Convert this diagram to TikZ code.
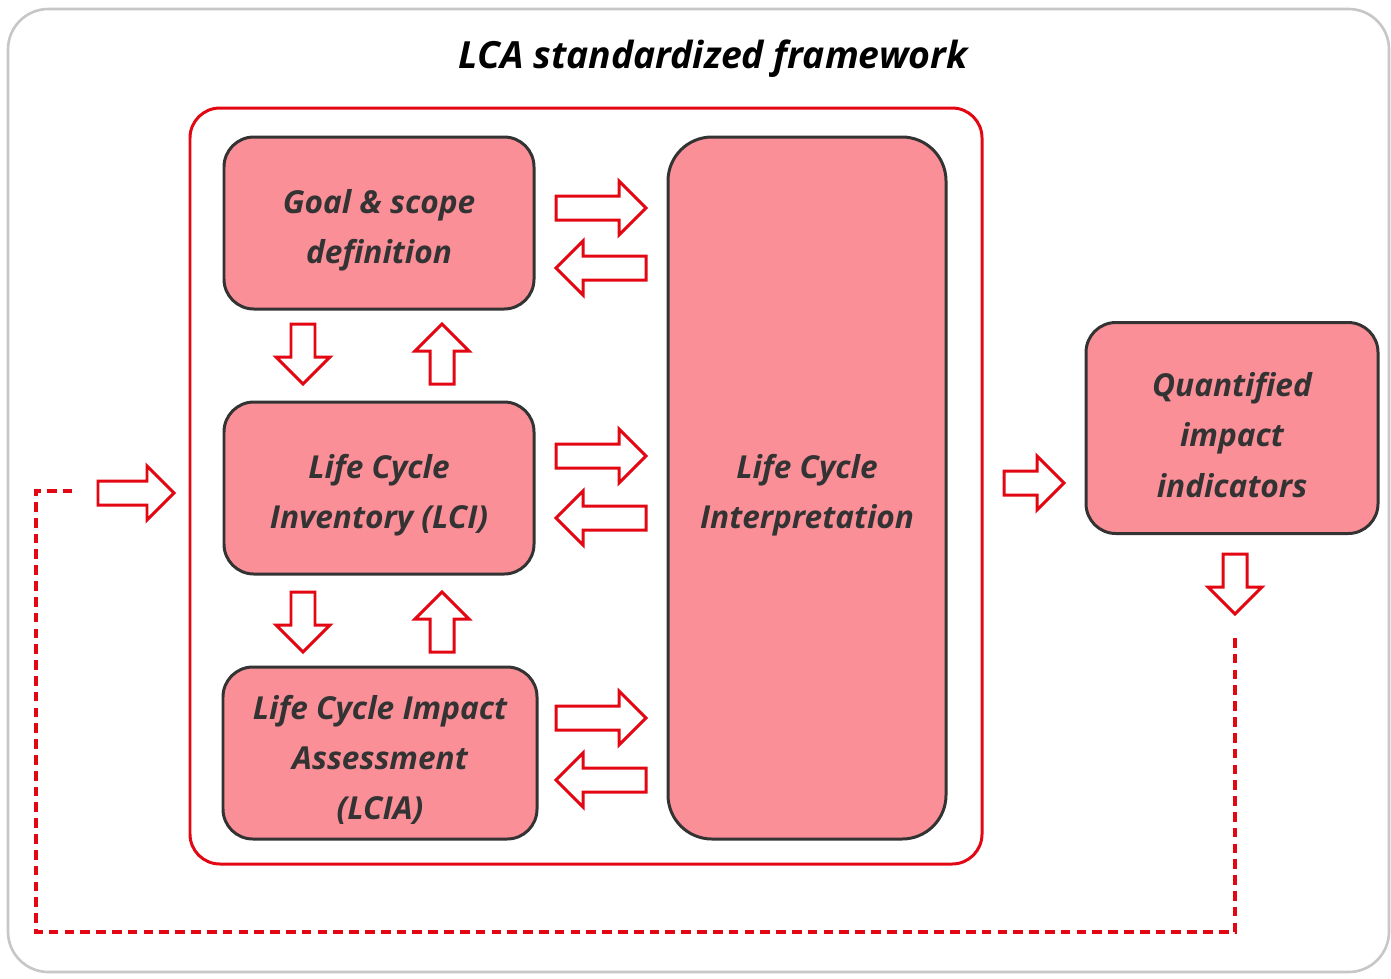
\documentclass[tikz,border=0pt]{standalone}
\usepackage{fontspec}
\setmainfont{Open Sans}
\definecolor{lcared}{RGB}{227,6,19}
\definecolor{lcapink}{RGB}{250,143,152}
\definecolor{lcadark}{RGB}{51,51,51}
\tikzset{
  phase/.style={draw=lcadark, fill=lcapink, line width=1.7pt, rounded corners=17pt, inner sep=0pt},
  phasetext/.style={align=center, text=lcadark, yshift=-4pt,
    font=\fontsize{18}{28.5}\selectfont\bfseries\itshape},
  barrow/.style={draw=lcared, fill=white, line width=1.7pt, line join=miter},
}
% block arrow: centre x, centre y, angle, half length
\newcommand{\blockarrow}[4]{%
  \draw[barrow,shift={(#1,#2)},rotate=#3] (-#4,-12) -- (#4-27,-12) -- (#4-27,-27)
    -- (#4,0) -- (#4-27,27) -- (#4-27,12) -- (-#4,12) -- cycle;}
\begin{document}
\begin{tikzpicture}[x=0.02cm,y=-0.02cm]
\useasboundingbox (0,0) rectangle (1391,978);
\draw[draw=black!22, line width=1.5pt, rounded corners=23pt] (8,9) rectangle (1389,972);
\node[font=\fontsize{21.3}{24}\selectfont\bfseries\itshape] (title) at (713,59) {LCA standardized framework};
\draw[lcared, line width=1.7pt, rounded corners=17pt] (190,108) rectangle (982,864);
\node[phase, minimum width=310*0.02cm, minimum height=172*0.02cm,
  label={[phasetext]center:{Goal \& scope\\definition}}] (goal) at (379,223) {};
\node[phase, minimum width=310*0.02cm, minimum height=172*0.02cm,
  label={[phasetext]center:{Life Cycle\\Inventory (LCI)}}] (lci) at (379,488) {};
\node[phase, minimum width=314*0.02cm, minimum height=172*0.02cm,
  label={[phasetext]center:{Life Cycle Impact\\Assessment\\(LCIA)}}] (lcia) at (380,753) {};
\node[phase, rounded corners=25pt, minimum width=278*0.02cm, minimum height=702*0.02cm,
  label={[phasetext]center:{Life Cycle\\Interpretation}}] (interp) at (807,488) {};
\node[phase, minimum width=292*0.02cm, minimum height=211*0.02cm,
  label={[phasetext]center:{Quantified\\impact\\indicators}}] (quant) at (1232,428) {};
\blockarrow{601}{208}{0}{45}
\blockarrow{601}{268}{180}{45}
\blockarrow{601}{456}{0}{45}
\blockarrow{601}{518}{180}{45}
\blockarrow{601}{718}{0}{45}
\blockarrow{601}{780}{180}{45}
\blockarrow{303}{354}{-90}{30}
\blockarrow{442}{354}{90}{30}
\blockarrow{303}{622}{-90}{30}
\blockarrow{442}{622}{90}{30}
\blockarrow{136}{493}{0}{38}
\blockarrow{1034}{483}{0}{30}
\blockarrow{1235}{584}{-90}{30}
\coordinate (loopstart) at (1235,638);
\coordinate (loopend) at (76,491);
\draw[lcared, line width=1.8pt, dash pattern=on 5.5pt off 3.5pt]
  (loopstart) -- (1235,932) -- (36,932) -- (36,491) -- (loopend);
\end{tikzpicture}
\end{document}
